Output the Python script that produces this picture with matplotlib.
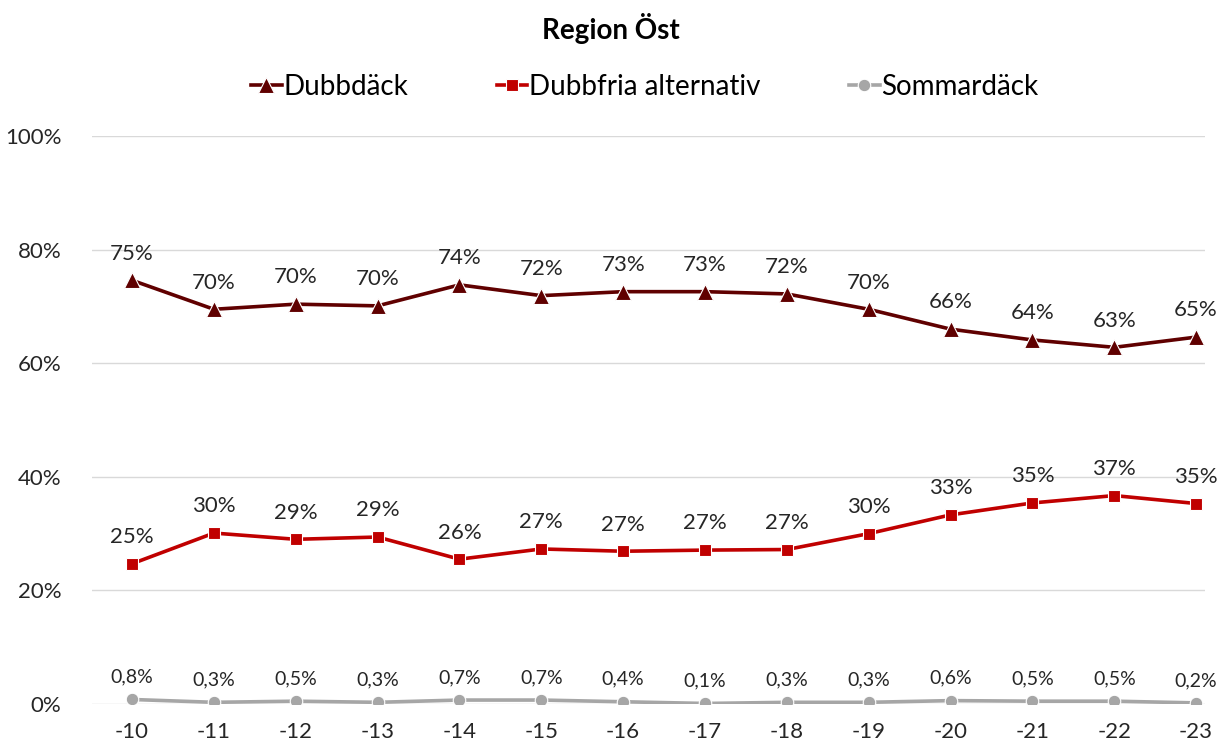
import matplotlib
matplotlib.use("Agg")
import matplotlib.pyplot as plt

plt.rcParams['font.family'] = ['Lato', 'DejaVu Sans']

years = ['-10', '-11', '-12', '-13', '-14', '-15', '-16', '-17', '-18', '-19', '-20', '-21', '-22', '-23']
dubb = [74.6, 69.5, 70.4, 70.1, 73.8, 71.9, 72.6, 72.6, 72.2, 69.5, 66.0, 64.1, 62.8, 64.6]
dubbfria = [24.7, 30.1, 29.0, 29.4, 25.5, 27.3, 26.9, 27.1, 27.2, 30.0, 33.3, 35.4, 36.7, 35.3]
sommar = [0.8, 0.3, 0.5, 0.3, 0.7, 0.7, 0.4, 0.1, 0.3, 0.3, 0.6, 0.5, 0.5, 0.2]

fig = plt.figure(figsize=(12.21, 7.45), dpi=100)
ax = fig.add_axes([0.0753, 0.055, 0.9117, 0.7624])

x = list(range(len(years)))
ax.plot(x, dubb, color='#600000', lw=2.6, marker='^', ms=11, mec='white', mew=0.8, label='Dubbdäck', zorder=3)
ax.plot(x, dubbfria, color='#C00000', lw=2.6, marker='s', ms=9, mec='white', mew=0.8, label='Dubbfria alternativ', zorder=3)
ax.plot(x, sommar, color='#A6A6A6', lw=2.6, marker='o', ms=9, mec='white', mew=0.8, label='Sommardäck', zorder=3)

for i in x:
    ax.annotate(f'{dubb[i]:.0f}%', (i, dubb[i]), xytext=(0, 12), textcoords='offset points',
                ha='center', va='bottom', fontsize=16, color='#262626')
    ax.annotate(f'{dubbfria[i]:.0f}%', (i, dubbfria[i]), xytext=(0, 12), textcoords='offset points',
                ha='center', va='bottom', fontsize=16, color='#262626')
    ax.annotate(f'{sommar[i]:.1f}%'.replace('.', ','), (i, sommar[i]), xytext=(0, 10), textcoords='offset points',
                ha='center', va='bottom', fontsize=14, color='#262626')

ax.set_xlim(-0.49, 13.11)
ax.set_ylim(0, 100)
ax.set_yticks([0, 20, 40, 60, 80, 100])
ax.set_yticklabels(['0%', '20%', '40%', '60%', '80%', '100%'])
ax.set_xticks(x)
ax.set_xticklabels(years)
ax.tick_params(axis='both', length=0, labelsize=16, colors='#262626')
ax.tick_params(axis='y', pad=22)
ax.tick_params(axis='x', pad=13)
ax.grid(axis='y', color='#D9D9D9', lw=1)
ax.set_axisbelow(True)
for s in ax.spines.values():
    s.set_visible(False)

fig.text(0.5, 0.962, 'Region Öst', ha='center', va='center', fontsize=20, fontweight='bold', color='black')
fig.legend(loc='center', bbox_to_anchor=(0.528, 0.883), ncol=3, frameon=False, fontsize=20,
           handlelength=1.1, handletextpad=0.05, columnspacing=3.2)

fig.savefig('out.png', dpi=100)
